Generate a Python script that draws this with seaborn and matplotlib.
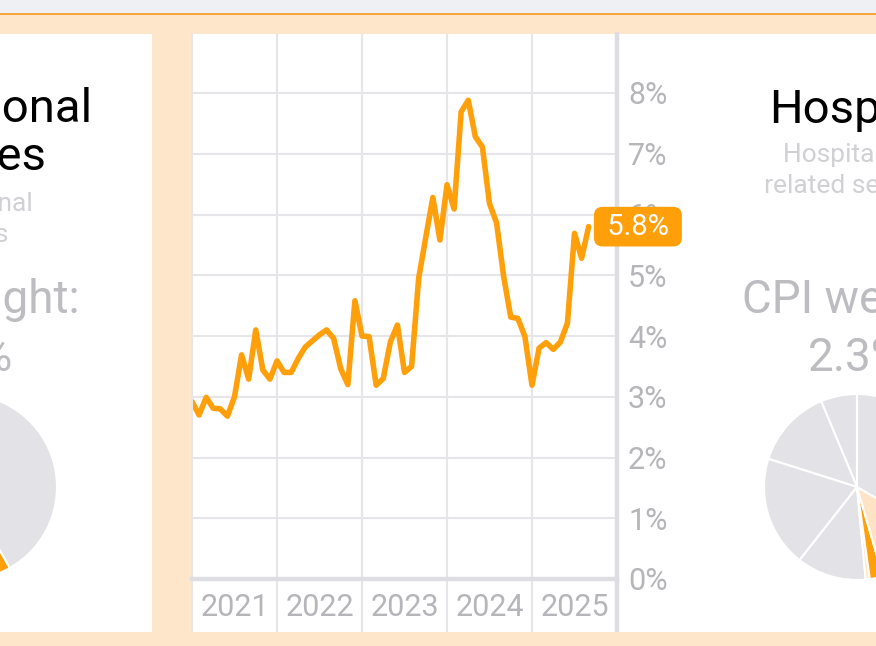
# CPI dashboard crop: y/y change line chart between two category cards
import numpy as np
import pandas as pd
import matplotlib
matplotlib.use("Agg")
import matplotlib.pyplot as plt
from matplotlib.patches import Rectangle
import seaborn as sns

# ---- data ----
start_year = 2021
# monthly year-over-year change (%), Jan 2021 .. Sep 2025
yoy_change = [2.92, 2.70, 2.99, 2.81, 2.80, 2.68, 3.00, 3.69, 3.29, 4.10, 3.44, 3.29,
              3.59, 3.40, 3.40, 3.63, 3.82, 3.92, 4.02, 4.10, 3.96, 3.46, 3.20, 4.58,
              4.00, 3.99, 3.19, 3.30, 3.90, 4.18, 3.40, 3.50, 4.95, 5.62, 6.28, 5.58,
              6.49, 6.09, 7.69, 7.88, 7.28, 7.11, 6.18, 5.86, 4.98, 4.31, 4.29, 3.99,
              3.19, 3.80, 3.89, 3.78, 3.90, 4.21, 5.69, 5.28, 5.80]
months = [start_year + i / 12 for i in range(len(yoy_change))]
year_labels = ["2021", "2022", "2023", "2024", "2025"]
pct_ticks = list(range(0, 9))
pct_labels = [f"{p}%" for p in pct_ticks]

left_title = ["Professional", "services"]
left_subtitle = ["Professional", "services"]
left_weight = ["CPI weight:", "3.0%"]
left_shares = [20.0, 18.0, 17.2, 3.0, 41.8]

right_title = ["Hospital"]
right_subtitle = ["Hospital and", "related services"]
right_weight = ["CPI weight:", "2.3%"]
right_shares = [6.3, 13.8, 19.3, 12.1, 0.7, 2.3, 12.2, 33.3]

# ---- style ----
ORANGE = "#ff9f0a"
PEACH_BG = "#fee6cb"
PEACH = "#ffe3c4"
PIE_GRAY = "#e3e3e7"
GRID = "#e6e6ea"
AXIS = "#dedee2"
TICK = "#b5b5ba"
SUB = "#d0d0d5"
WEIGHT = "#bcbcc1"

left_colors = [PIE_GRAY, PIE_GRAY, PIE_GRAY, ORANGE, PIE_GRAY]
right_colors = [PIE_GRAY, PIE_GRAY, PIE_GRAY, PIE_GRAY, PEACH, ORANGE, PEACH, PIE_GRAY]

sns.set_theme(style="white")
plt.rcParams["font.family"] = ["Roboto", "DejaVu Sans"]

W, H = 876, 646
fig = plt.figure(figsize=(W / 100, H / 100), dpi=100)
fig.patch.set_facecolor(PEACH_BG)


def fx(px):
    return px / W


def fy(py):
    return 1 - py / H


def rect(x0, y0, x1, y1, color):
    fig.add_artist(Rectangle((fx(x0), fy(y1)), fx(x1) - fx(x0), fy(y0) - fy(y1),
                             transform=fig.transFigure, facecolor=color,
                             edgecolor="none", zorder=-5))


# page chrome
rect(0, 0, W, 13, "#eff0f4")
rect(0, 13, W, 14.5, "#f5a43e")
rect(-10, 34, 152, 632, "white")
rect(191, 34, W + 10, 632, "white")

# ---- line chart ----
px_per_pct = 60.75
y_top = (579 - 34) / px_per_pct
y_bot = -(632 - 579) / px_per_pct
ax = fig.add_axes([fx(192), fy(579), fx(617) - fx(192), fy(34) - fy(579)])
ax.set_facecolor("none")
sns.lineplot(x=months, y=yoy_change, ax=ax, color=ORANGE, linewidth=4.0)
for ln in ax.lines:
    ln.set_solid_joinstyle("round")
    ln.set_solid_capstyle("round")

ax.set_xlim(start_year, start_year + 5)
ax.set_ylim(0, y_top)
ax.set_xticks([start_year + k for k in range(1, 5)])
ax.set_xticklabels([])
ax.set_xticks([start_year + k + 0.5 for k in range(5)], labels=year_labels, minor=True)
ax.set_yticks(pct_ticks, labels=pct_labels)
ax.yaxis.tick_right()
ax.grid(True, which="major", color=GRID, linewidth=1.5)
ax.tick_params(axis="both", which="both", length=0, labelsize=22, labelcolor=TICK)
ax.tick_params(axis="x", which="minor", pad=10)
ax.tick_params(axis="y", pad=8)
ax.set_xlabel("")
ax.set_ylabel("")

ax.spines["top"].set_visible(False)
ax.spines["left"].set_color(GRID)
ax.spines["left"].set_linewidth(1.5)
ax.spines["right"].set_color(AXIS)
ax.spines["right"].set_linewidth(3.2)
ax.spines["bottom"].set_color(AXIS)
ax.spines["bottom"].set_linewidth(3.2)

# grid and axis lines carried down through the year-label strip
ax.vlines([start_year + k for k in range(5)], y_bot, 0, colors=GRID,
          linewidth=1.5, clip_on=False)
ax.vlines([start_year + 5], y_bot, 0, colors=AXIS, linewidth=3.2, clip_on=False)

ax.annotate(f" {yoy_change[-1]:.1f}% ", xy=(months[-1], yoy_change[-1]),
            xytext=(8, 0), textcoords="offset points", ha="left", va="center",
            fontsize=21, color="white", annotation_clip=False, zorder=10,
            bbox=dict(boxstyle="round,pad=0.2,rounding_size=0.3",
                      facecolor=ORANGE, edgecolor="none"))

# ---- category cards ----
R = 93


def pie_card(cx, weight_cx, pie_cx, cy, shares, colors, title, subtitle, weight,
             title_y, sub_y):
    pax = fig.add_axes([fx(pie_cx - R), fy(cy + R), fx(2 * R), fx(2 * R) * W / H])
    pax.pie(shares, colors=colors, startangle=90, counterclock=True, radius=1,
            wedgeprops=dict(edgecolor="white", linewidth=1.5))
    pax.set_xlim(-1, 1)
    pax.set_ylim(-1, 1)
    pax.set_aspect("equal")
    pax.axis("off")
    for i, line in enumerate(title):
        fig.text(fx(cx), fy(title_y + 48 * i), line, ha="center", va="baseline",
                 fontsize=34, color="black")
    for i, line in enumerate(subtitle):
        fig.text(fx(cx), fy(sub_y + 31 * i), line, ha="center", va="baseline",
                 fontsize=19, color=SUB)
    for i, line in enumerate(weight):
        fig.text(fx(weight_cx), fy(313 + 58 * i), line, ha="center", va="baseline",
                 fontsize=33, color=WEIGHT)


pie_card(-40, -35, -36, 487, left_shares, left_colors, left_title, left_subtitle,
         left_weight, 122, 211)
pie_card(857, 857, 857, 487, right_shares, right_colors, right_title, right_subtitle,
         right_weight, 123, 162)

fig.savefig("out.png", dpi=100, facecolor=fig.get_facecolor())
